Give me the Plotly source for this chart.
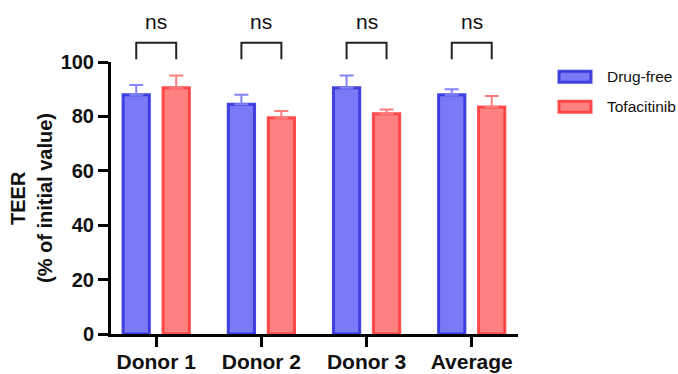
import plotly.graph_objects as go

# Data
categories = ["Donor 1", "Donor 2", "Donor 3", "Average"]
drug_free = [88, 84.5, 90.5, 88]
drug_free_sd = [3.5, 3.5, 4.5, 2]
tofacitinib = [90.5, 79.5, 81, 83.5]
tofacitinib_sd = [4.5, 2.5, 1.5, 4]
significance = ["ns", "ns", "ns", "ns"]
y_ticks = [0, 20, 40, 60, 80, 100]

FONT = "Liberation Sans, Arial, sans-serif"
BLUE_FILL, BLUE_LINE, BLUE_ERR = "rgb(122,122,246)", "rgba(50,50,220,0.9)", "rgb(132,132,250)"
RED_FILL, RED_LINE, RED_ERR = "rgb(255,128,128)", "rgba(255,60,60,0.9)", "rgb(255,125,125)"

x_idx = list(range(len(categories)))
XMIN, XMAX = -0.43, len(categories) - 1 + 0.44
BAR_W = 0.25
OFF = 0.19

L, R, T, B = 111, 160, 62, 40
PW = 678 - L - R
PH = 374 - T - B

fig = go.Figure()
fig.add_trace(go.Bar(
    x=x_idx, y=drug_free, name="Drug-free", width=BAR_W, offset=-OFF - BAR_W / 2,
    marker=dict(color=BLUE_FILL, line=dict(color=BLUE_LINE, width=3)),
    error_y=dict(type="data", symmetric=False, array=drug_free_sd,
                 arrayminus=[0] * len(drug_free), color=BLUE_ERR, thickness=2, width=7),
    showlegend=False,
))
fig.add_trace(go.Bar(
    x=x_idx, y=tofacitinib, name="Tofacitinib", width=BAR_W, offset=OFF - BAR_W / 2,
    marker=dict(color=RED_FILL, line=dict(color=RED_LINE, width=3)),
    error_y=dict(type="data", symmetric=False, array=tofacitinib_sd,
                 arrayminus=[0] * len(tofacitinib), color=RED_ERR, thickness=2, width=7),
    showlegend=False,
))


def xp(x):
    """Data x -> paper x."""
    return (x - XMIN) / (XMAX - XMIN)


def px_x(p):
    """Pixel x -> paper x."""
    return (p - L) / PW


def px_y(p):
    """Pixel y (from top) -> paper y."""
    return (T + PH - p) / PH


shapes = []
annotations = []
# Significance brackets above each pair
for i, lab in enumerate(significance):
    x0, x1 = xp(i - OFF), xp(i + OFF)
    y_top, y_bot = 1.071, 1.01
    shapes.append(dict(type="path", xref="paper", yref="paper",
                       path=f"M {x0},{y_bot} L {x0},{y_top} L {x1},{y_top} L {x1},{y_bot}",
                       line=dict(color="#222", width=2)))
    annotations.append(dict(x=xp(i), y=1.148, xref="paper", yref="paper", text=lab,
                            showarrow=False, font=dict(family=FONT, size=21, color="#111"),
                            xanchor="center", yanchor="middle"))

# Legend drawn as swatches + labels
legend_items = [("Drug-free", BLUE_FILL, BLUE_LINE, 76.7), ("Tofacitinib", RED_FILL, RED_LINE, 106.7)]
for name, fill, line, yc_px in legend_items:
    shapes.append(dict(type="rect", xref="paper", yref="paper",
                       x0=px_x(559), x1=px_x(591),
                       y0=px_y(yc_px + 5.5), y1=px_y(yc_px - 5.5),
                       fillcolor=fill, line=dict(color=line, width=3)))
    annotations.append(dict(x=px_x(605), y=px_y(yc_px), xref="paper", yref="paper", text=name,
                            showarrow=False, font=dict(family=FONT, size=15.5, color="#111"),
                            xanchor="left", yanchor="middle"))

# Y-axis title (two lines)
annotations.append(dict(x=px_x(18), y=0.5, xref="paper", yref="paper", text="<b>TEER</b>",
                        showarrow=False, textangle=-90, font=dict(family=FONT, size=20, color="#111"),
                        xanchor="center", yanchor="middle"))
annotations.append(dict(x=px_x(45), y=0.5, xref="paper", yref="paper",
                        text="<b>(% of initial value)</b>", showarrow=False, textangle=-90,
                        font=dict(family=FONT, size=20, color="#111"),
                        xanchor="center", yanchor="middle"))

fig.update_layout(
    width=678, height=374,
    margin=dict(l=L, r=R, t=T, b=B),
    paper_bgcolor="white", plot_bgcolor="white",
    barmode="group",
    shapes=shapes, annotations=annotations,
    font=dict(family=FONT, color="#111"),
)
fig.update_xaxes(
    range=[XMIN, XMAX], tickmode="array", tickvals=x_idx,
    ticktext=[f"<b>{c}</b>" for c in categories],
    showline=True, linecolor="black", linewidth=3,
    ticks="outside", ticklen=10, tickwidth=3, tickcolor="black",
    tickfont=dict(family=FONT, size=21, color="#111"), ticklabelstandoff=-3,
    showgrid=False, zeroline=False, fixedrange=True, automargin=False,
)
fig.update_yaxes(
    range=[0, 100], tickmode="array", tickvals=y_ticks,
    ticktext=[f"<b>{t}</b>" for t in y_ticks],
    showline=True, linecolor="black", linewidth=3,
    ticks="outside", ticklen=10, tickwidth=3, tickcolor="black",
    tickfont=dict(family=FONT, size=20, color="#111"),
    showgrid=False, zeroline=False, fixedrange=True, automargin=False,
)

fig.write_html("out.html", config={"displayModeBar": False})
